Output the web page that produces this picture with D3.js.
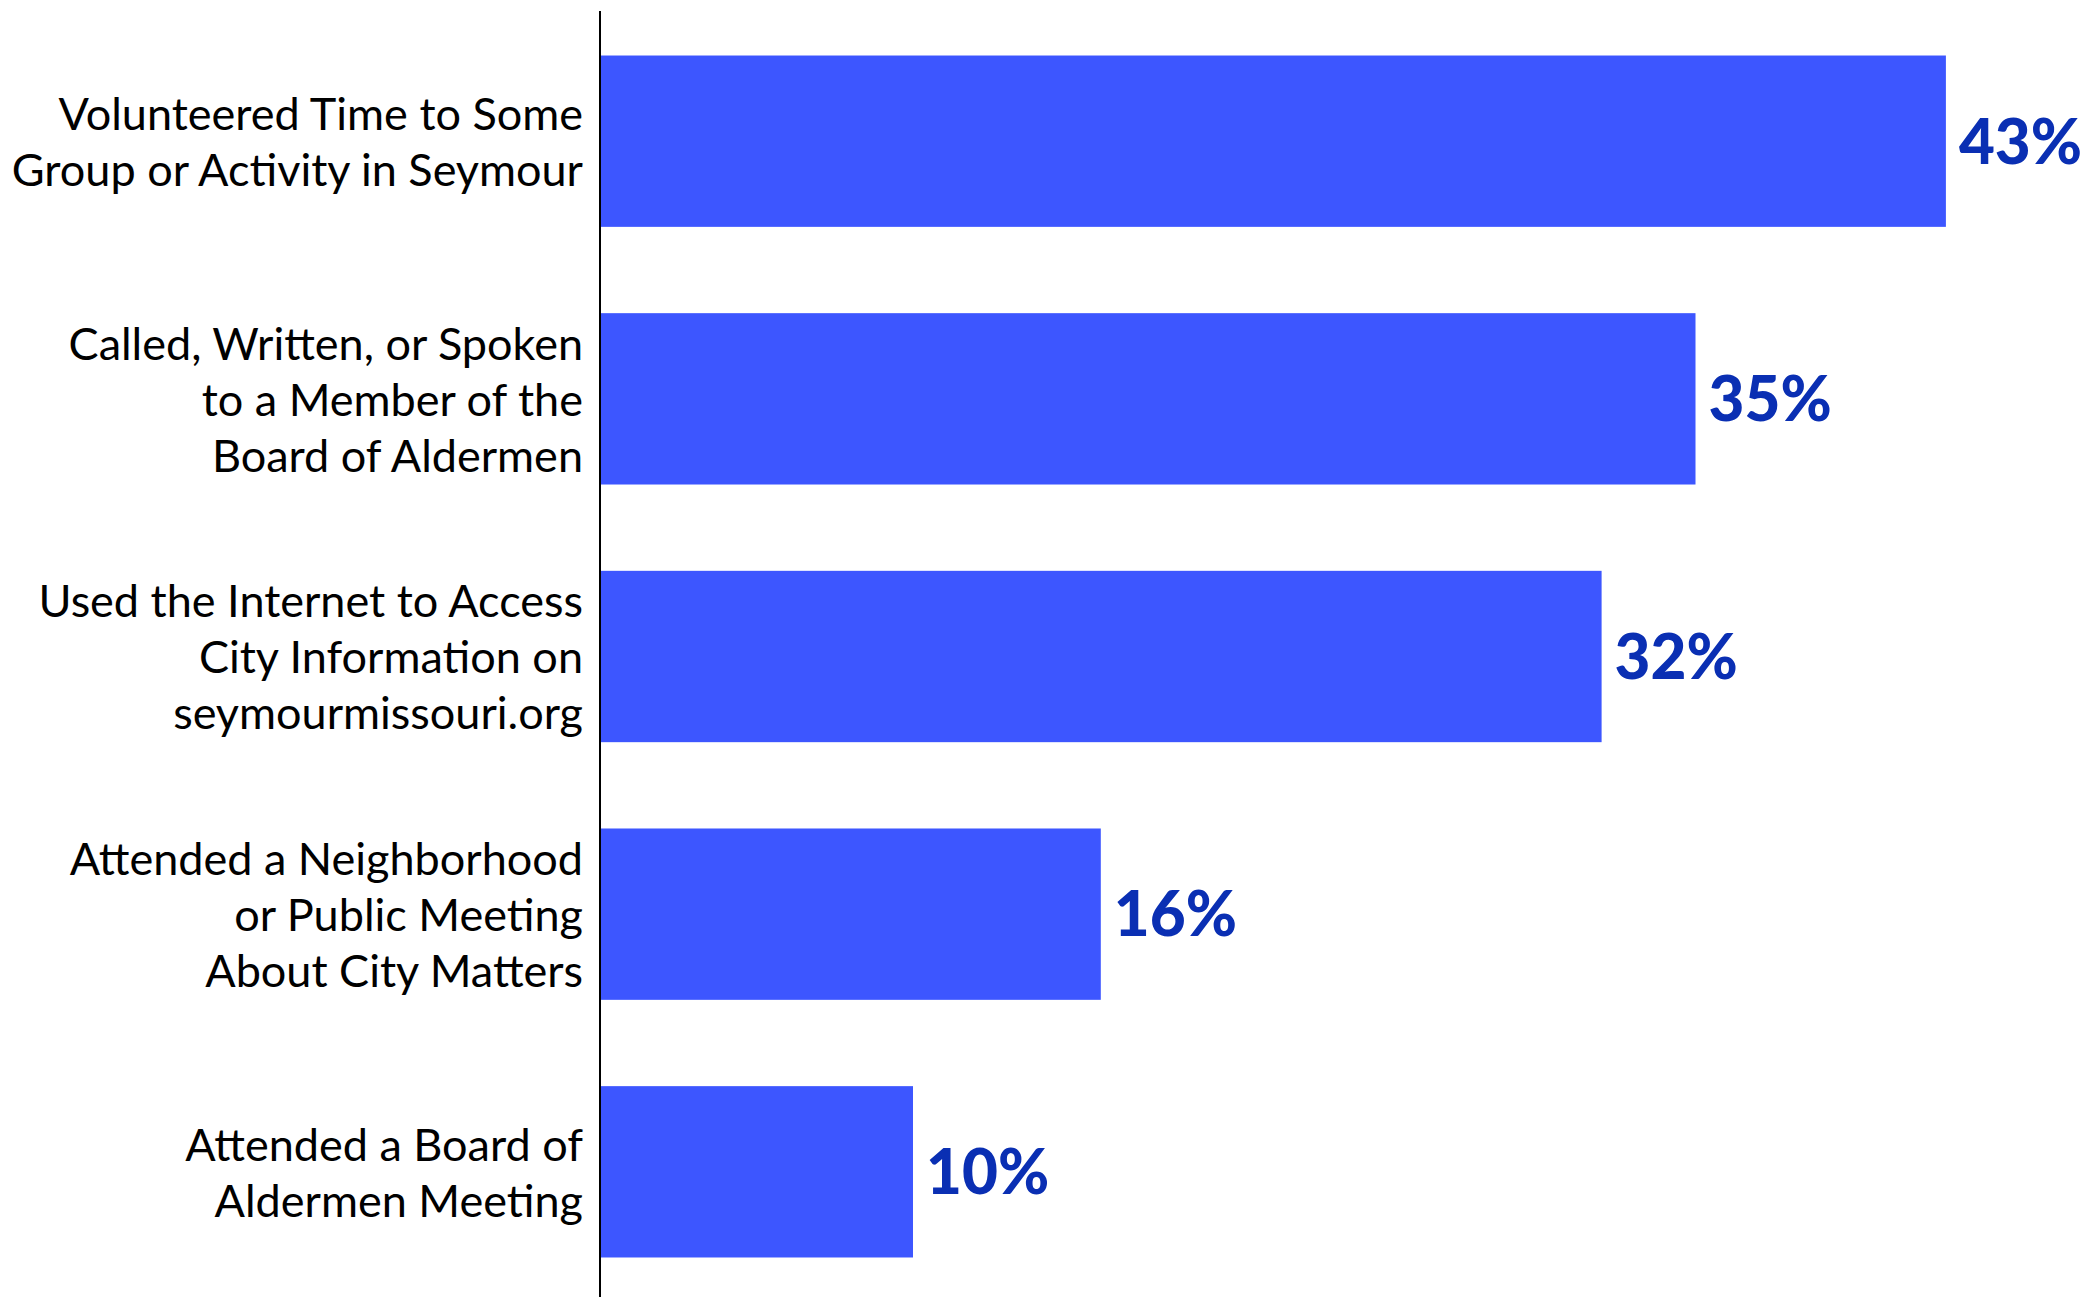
<!DOCTYPE html>
<html>
<head>
<meta charset="utf-8">
<script src="https://cdn.jsdelivr.net/npm/d3@7"></script>
<style>
  html, body { margin: 0; padding: 0; background: #fff; }
  svg { display: block; }
</style>
</head>
<body>
<svg id="chart" width="2087" height="1297"></svg>
<script>
const categories = [
  "Volunteered Time to Some\nGroup or Activity in Seymour",
  "Called, Written, or Spoken\nto a Member of the\nBoard of Aldermen",
  "Used the Internet to Access\nCity Information on\nseymourmissouri.org",
  "Attended a Neighborhood\nor Public Meeting\nAbout City Matters",
  "Attended a Board of\nAldermen Meeting"
];
const values = [0.43, 0.35, 0.32, 0.16, 0.10];
const valueLabels = ["43%", "35%", "32%", "16%", "10%"];

const svg = d3.select("#chart");
const axisX = 600;

const x = d3.scaleLinear().domain([0, 0.5]).range([axisX, axisX + 1565]);
const y = d3.scaleBand().domain(categories).range([13, 1300]).paddingInner(0.335).paddingOuter(0.165);

svg.selectAll("rect.bar").data(values).join("rect")
  .attr("class", "bar")
  .attr("x", x(0))
  .attr("y", (d, i) => y(categories[i]))
  .attr("width", d => x(d) - x(0))
  .attr("height", y.bandwidth())
  .attr("fill", "#3D56FF");

// vertical axis line
svg.append("line")
  .attr("x1", axisX).attr("x2", axisX)
  .attr("y1", 11).attr("y2", 1297)
  .attr("stroke", "#000").attr("stroke-width", 2);

// value labels
svg.selectAll("text.val").data(values).join("text")
  .attr("class", "val")
  .attr("x", d => x(d) + 13)
  .attr("y", (d, i) => y(categories[i]) + y.bandwidth() / 2)
  .attr("dy", "0.36em")
  .attr("font-family", "Lato, 'Open Sans', sans-serif")
  .attr("font-weight", 900)
  .attr("font-size", 62)
  .attr("fill", "#0A2FB3")
  .text((d, i) => valueLabels[i]);

// category labels
const lineH = 56;
categories.forEach((c, i) => {
  const lines = c.split("\n");
  const cy = y(c) + y.bandwidth() / 2 + 1;
  const t = svg.append("text")
    .attr("text-anchor", "end")
    .attr("font-family", "Lato, 'Open Sans', sans-serif")
    .attr("font-size", 45)
    .attr("fill", "#000");
  lines.forEach((l, j) => {
    t.append("tspan")
      .attr("x", 583)
      .attr("y", cy + (j - (lines.length - 1) / 2) * lineH)
      .attr("dy", "0.35em")
      .text(l);
  });
});
</script>
</body>
</html>
